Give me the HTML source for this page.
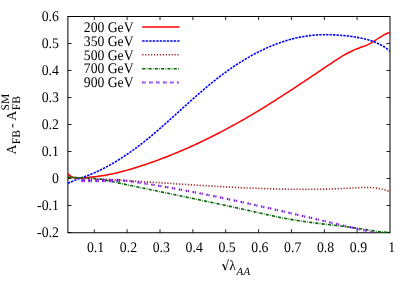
<!DOCTYPE html><html><head><meta charset="utf-8"><style>html,body{margin:0;padding:0;background:#fff}svg{display:block;will-change:transform}text{font-family:"Liberation Serif",serif;fill:#000;text-rendering:geometricPrecision}</style></head><body>
<svg width="415" height="291" viewBox="0 0 415 291">
<rect width="415" height="291" fill="#fff"/>
<defs><clipPath id="c"><rect x="67.9" y="16.5" width="322.1" height="217.2"/></clipPath><clipPath id="pc"><rect x="80" y="170" width="44" height="20"/></clipPath></defs>
<g stroke="#000" stroke-width="0.85" fill="none">
<rect x="67.90" y="16.50" width="322.10" height="216.25" stroke-width="1"/>
<path d="M94.3,232.8 v-3.6 M94.3,16.5 v3.6"/>
<path d="M127.1,232.8 v-3.6 M127.1,16.5 v3.6"/>
<path d="M160.0,232.8 v-3.6 M160.0,16.5 v3.6"/>
<path d="M192.9,232.8 v-3.6 M192.9,16.5 v3.6"/>
<path d="M225.7,232.8 v-3.6 M225.7,16.5 v3.6"/>
<path d="M258.6,232.8 v-3.6 M258.6,16.5 v3.6"/>
<path d="M291.4,232.8 v-3.6 M291.4,16.5 v3.6"/>
<path d="M324.3,232.8 v-3.6 M324.3,16.5 v3.6"/>
<path d="M357.1,232.8 v-3.6 M357.1,16.5 v3.6"/>
<path d="M67.9,232.5 h3.6 M390.0,232.5 h-3.6"/>
<path d="M67.9,205.5 h3.6 M390.0,205.5 h-3.6"/>
<path d="M67.9,178.5 h3.6 M390.0,178.5 h-3.6"/>
<path d="M67.9,151.5 h3.6 M390.0,151.5 h-3.6"/>
<path d="M67.9,124.5 h3.6 M390.0,124.5 h-3.6"/>
<path d="M67.9,97.5 h3.6 M390.0,97.5 h-3.6"/>
<path d="M67.9,70.5 h3.6 M390.0,70.5 h-3.6"/>
<path d="M67.9,43.5 h3.6 M390.0,43.5 h-3.6"/>
<path d="M67.9,16.5 h3.6 M390.0,16.5 h-3.6"/>
</g>
<g clip-path="url(#c)" fill="none" stroke-linejoin="round">
<path d="M67.90,173.60 C68.17,173.90 68.70,174.78 69.50,175.40 C70.30,176.02 71.62,176.88 72.70,177.30 C73.78,177.72 74.62,177.78 76.00,177.90 C77.38,178.02 79.33,178.02 81.00,178.00 C82.67,177.98 84.17,177.95 86.00,177.80 C87.83,177.65 90.33,177.27 92.00,177.08 C93.67,176.88 94.67,176.79 96.00,176.62 C97.33,176.45 98.67,176.27 100.00,176.07 C101.33,175.87 102.67,175.66 104.00,175.43 C105.33,175.20 106.67,174.96 108.00,174.71 C109.33,174.45 110.67,174.18 112.00,173.90 C113.33,173.62 114.67,173.32 116.00,173.02 C117.33,172.71 118.67,172.39 120.00,172.06 C121.33,171.73 122.67,171.38 124.00,171.03 C125.33,170.68 126.67,170.31 128.00,169.94 C129.33,169.56 130.67,169.18 132.00,168.78 C133.33,168.39 134.67,167.98 136.00,167.57 C137.33,167.16 138.67,166.73 140.00,166.30 C141.33,165.87 142.67,165.43 144.00,164.99 C145.33,164.54 146.67,164.08 148.00,163.62 C149.33,163.16 150.67,162.69 152.00,162.22 C153.33,161.74 154.67,161.26 156.00,160.77 C157.33,160.29 158.67,159.79 160.00,159.29 C161.33,158.79 162.67,158.28 164.00,157.77 C165.33,157.26 166.67,156.74 168.00,156.21 C169.33,155.68 170.67,155.15 172.00,154.61 C173.33,154.07 174.67,153.52 176.00,152.97 C177.33,152.42 178.67,151.86 180.00,151.30 C181.33,150.73 182.67,150.16 184.00,149.58 C185.33,149.00 186.67,148.42 188.00,147.83 C189.33,147.24 190.67,146.64 192.00,146.04 C193.33,145.43 194.67,144.82 196.00,144.21 C197.33,143.59 198.67,142.97 200.00,142.34 C201.33,141.71 202.67,141.08 204.00,140.43 C205.33,139.79 206.67,139.14 208.00,138.49 C209.33,137.84 210.67,137.17 212.00,136.51 C213.33,135.84 214.67,135.17 216.00,134.49 C217.33,133.81 218.67,133.12 220.00,132.43 C221.33,131.74 222.67,131.04 224.00,130.33 C225.33,129.63 226.67,128.92 228.00,128.20 C229.33,127.48 230.67,126.76 232.00,126.03 C233.33,125.30 234.67,124.56 236.00,123.82 C237.33,123.08 238.67,122.33 240.00,121.58 C241.33,120.82 242.67,120.06 244.00,119.29 C245.33,118.53 246.67,117.75 248.00,116.97 C249.33,116.19 250.67,115.41 252.00,114.62 C253.33,113.83 254.67,113.03 256.00,112.23 C257.33,111.43 258.67,110.63 260.00,109.81 C261.33,109.00 262.67,108.19 264.00,107.37 C265.33,106.55 266.67,105.72 268.00,104.89 C269.33,104.06 270.67,103.22 272.00,102.39 C273.33,101.55 274.67,100.70 276.00,99.86 C277.33,99.01 278.67,98.16 280.00,97.30 C281.33,96.45 282.67,95.59 284.00,94.73 C285.33,93.86 286.67,93.00 288.00,92.13 C289.33,91.26 290.67,90.39 292.00,89.51 C293.33,88.64 294.67,87.76 296.00,86.88 C297.33,86.00 298.67,85.11 300.00,84.23 C301.33,83.34 302.67,82.45 304.00,81.56 C305.33,80.67 306.67,79.78 308.00,78.89 C309.33,78.00 310.67,77.10 312.00,76.21 C313.33,75.31 314.67,74.42 316.00,73.52 C317.33,72.62 318.67,71.73 320.00,70.83 C321.33,69.93 322.67,69.03 324.00,68.14 C325.33,67.24 326.67,66.34 328.00,65.45 C329.33,64.55 330.67,63.66 332.00,62.77 C333.33,61.89 334.67,61.01 336.00,60.15 C337.33,59.29 338.67,58.44 340.00,57.62 C341.33,56.80 342.67,55.99 344.00,55.22 C345.33,54.44 346.67,53.69 348.00,52.98 C349.33,52.27 350.67,51.59 352.00,50.95 C353.33,50.32 354.67,49.72 356.00,49.17 C357.33,48.62 358.67,48.15 360.00,47.66 C361.33,47.18 362.67,46.77 364.00,46.27 C365.33,45.76 366.67,45.26 368.00,44.63 C369.33,43.99 370.67,43.24 372.00,42.45 C373.33,41.66 374.67,40.76 376.00,39.89 C377.33,39.03 378.67,38.10 380.00,37.26 C381.33,36.42 382.67,35.58 384.00,34.87 C385.33,34.16 387.00,33.44 388.00,33.03 C389.00,32.62 389.67,32.52 390.00,32.41" stroke="#ff0000" stroke-width="1.5"/>
<path d="M67.90,183.20 C69.67,182.47 76.48,179.63 78.50,178.80 C80.52,177.97 79.08,178.55 80.00,178.23 C80.92,177.91 82.67,177.35 84.00,176.88 C85.33,176.41 86.67,175.92 88.00,175.40 C89.33,174.89 90.67,174.35 92.00,173.80 C93.33,173.24 94.67,172.66 96.00,172.06 C97.33,171.46 98.67,170.83 100.00,170.19 C101.33,169.55 102.67,168.88 104.00,168.20 C105.33,167.52 106.67,166.81 108.00,166.09 C109.33,165.36 110.67,164.62 112.00,163.85 C113.33,163.09 114.67,162.30 116.00,161.50 C117.33,160.69 118.67,159.87 120.00,159.03 C121.33,158.18 122.67,157.32 124.00,156.44 C125.33,155.56 126.67,154.66 128.00,153.74 C129.33,152.82 130.67,151.88 132.00,150.93 C133.33,149.97 134.67,149.00 136.00,148.01 C137.33,147.02 138.67,146.01 140.00,144.98 C141.33,143.95 142.67,142.91 144.00,141.85 C145.33,140.79 146.67,139.71 148.00,138.62 C149.33,137.52 150.67,136.42 152.00,135.30 C153.33,134.18 154.67,133.05 156.00,131.90 C157.33,130.76 158.67,129.61 160.00,128.44 C161.33,127.28 162.67,126.11 164.00,124.93 C165.33,123.75 166.67,122.57 168.00,121.38 C169.33,120.19 170.67,118.99 172.00,117.79 C173.33,116.59 174.67,115.39 176.00,114.18 C177.33,112.98 178.67,111.77 180.00,110.57 C181.33,109.36 182.67,108.15 184.00,106.95 C185.33,105.75 186.67,104.55 188.00,103.35 C189.33,102.16 190.67,100.96 192.00,99.78 C193.33,98.59 194.67,97.41 196.00,96.24 C197.33,95.07 198.67,93.90 200.00,92.75 C201.33,91.59 202.67,90.44 204.00,89.31 C205.33,88.18 206.67,87.06 208.00,85.95 C209.33,84.84 210.67,83.74 212.00,82.66 C213.33,81.58 214.67,80.52 216.00,79.47 C217.33,78.42 218.67,77.39 220.00,76.38 C221.33,75.36 222.67,74.37 224.00,73.38 C225.33,72.40 226.67,71.44 228.00,70.49 C229.33,69.54 230.67,68.61 232.00,67.70 C233.33,66.79 234.67,65.89 236.00,65.01 C237.33,64.13 238.67,63.27 240.00,62.43 C241.33,61.59 242.67,60.76 244.00,59.95 C245.33,59.15 246.67,58.36 248.00,57.58 C249.33,56.81 250.67,56.06 252.00,55.32 C253.33,54.59 254.67,53.87 256.00,53.17 C257.33,52.47 258.67,51.79 260.00,51.13 C261.33,50.47 262.67,49.83 264.00,49.21 C265.33,48.58 266.67,47.98 268.00,47.39 C269.33,46.81 270.67,46.24 272.00,45.70 C273.33,45.15 274.67,44.62 276.00,44.12 C277.33,43.61 278.67,43.12 280.00,42.65 C281.33,42.18 282.67,41.74 284.00,41.31 C285.33,40.88 286.67,40.47 288.00,40.08 C289.33,39.70 290.67,39.33 292.00,38.98 C293.33,38.64 294.67,38.31 296.00,38.00 C297.33,37.70 298.67,37.41 300.00,37.15 C301.33,36.88 302.67,36.64 304.00,36.42 C305.33,36.20 306.67,36.00 308.00,35.82 C309.33,35.64 310.67,35.48 312.00,35.34 C313.33,35.21 314.67,35.09 316.00,35.00 C317.33,34.90 318.67,34.83 320.00,34.78 C321.33,34.73 322.67,34.69 324.00,34.68 C325.33,34.66 326.67,34.67 328.00,34.68 C329.33,34.70 330.67,34.74 332.00,34.79 C333.33,34.84 334.67,34.91 336.00,34.98 C337.33,35.06 338.67,35.16 340.00,35.26 C341.33,35.36 342.67,35.48 344.00,35.61 C345.33,35.74 346.67,35.88 348.00,36.03 C349.33,36.19 350.67,36.36 352.00,36.55 C353.33,36.74 354.67,36.94 356.00,37.16 C357.33,37.39 358.67,37.63 360.00,37.89 C361.33,38.15 362.67,38.44 364.00,38.75 C365.33,39.06 366.67,39.39 368.00,39.76 C369.33,40.14 370.67,40.54 372.00,41.01 C373.33,41.47 374.67,41.97 376.00,42.54 C377.33,43.12 378.67,43.74 380.00,44.44 C381.33,45.15 382.67,45.91 384.00,46.78 C385.33,47.64 387.00,48.87 388.00,49.61 C389.00,50.36 389.67,50.97 390.00,51.24" stroke="#0000ff" stroke-width="1.6" stroke-dasharray="2.35,1.1"/>
<path d="M67.90,176.00 C68.58,176.30 69.98,177.43 72.00,177.80 C74.02,178.17 75.33,177.98 80.00,178.20 C84.67,178.42 96.00,178.91 100.00,179.09 C104.00,179.28 102.67,179.23 104.00,179.30 C105.33,179.38 106.67,179.45 108.00,179.52 C109.33,179.60 110.67,179.67 112.00,179.75 C113.33,179.82 114.67,179.90 116.00,179.98 C117.33,180.05 118.67,180.13 120.00,180.21 C121.33,180.29 122.67,180.37 124.00,180.45 C125.33,180.53 126.67,180.62 128.00,180.70 C129.33,180.78 130.67,180.86 132.00,180.95 C133.33,181.03 134.67,181.12 136.00,181.20 C137.33,181.28 138.67,181.37 140.00,181.46 C141.33,181.54 142.67,181.63 144.00,181.72 C145.33,181.80 146.67,181.89 148.00,181.98 C149.33,182.06 150.67,182.15 152.00,182.24 C153.33,182.33 154.67,182.42 156.00,182.50 C157.33,182.59 158.67,182.68 160.00,182.77 C161.33,182.86 162.67,182.95 164.00,183.04 C165.33,183.13 166.67,183.21 168.00,183.30 C169.33,183.39 170.67,183.48 172.00,183.57 C173.33,183.66 174.67,183.75 176.00,183.84 C177.33,183.92 178.67,184.01 180.00,184.10 C181.33,184.19 182.67,184.28 184.00,184.36 C185.33,184.45 186.67,184.54 188.00,184.62 C189.33,184.71 190.67,184.80 192.00,184.88 C193.33,184.97 194.67,185.05 196.00,185.14 C197.33,185.22 198.67,185.31 200.00,185.39 C201.33,185.47 202.67,185.56 204.00,185.64 C205.33,185.72 206.67,185.80 208.00,185.88 C209.33,185.96 210.67,186.04 212.00,186.12 C213.33,186.20 214.67,186.28 216.00,186.36 C217.33,186.43 218.67,186.51 220.00,186.59 C221.33,186.66 222.67,186.73 224.00,186.81 C225.33,186.88 226.67,186.95 228.00,187.02 C229.33,187.10 230.67,187.17 232.00,187.23 C233.33,187.30 234.67,187.37 236.00,187.44 C237.33,187.50 238.67,187.57 240.00,187.63 C241.33,187.69 242.67,187.76 244.00,187.82 C245.33,187.88 246.67,187.94 248.00,187.99 C249.33,188.05 250.67,188.11 252.00,188.16 C253.33,188.22 254.67,188.27 256.00,188.32 C257.33,188.37 258.67,188.42 260.00,188.47 C261.33,188.52 262.67,188.57 264.00,188.61 C265.33,188.66 266.67,188.70 268.00,188.74 C269.33,188.78 270.67,188.82 272.00,188.86 C273.33,188.89 274.67,188.93 276.00,188.96 C277.33,188.99 278.67,189.02 280.00,189.05 C281.33,189.08 282.67,189.11 284.00,189.13 C285.33,189.16 286.67,189.18 288.00,189.20 C289.33,189.22 290.67,189.24 292.00,189.26 C293.33,189.27 294.67,189.28 296.00,189.30 C297.33,189.31 298.67,189.31 300.00,189.32 C301.33,189.33 302.67,189.33 304.00,189.33 C305.33,189.33 306.67,189.33 308.00,189.33 C309.33,189.32 310.67,189.32 312.00,189.31 C313.33,189.30 314.67,189.29 316.00,189.27 C317.33,189.26 318.67,189.24 320.00,189.22 C321.33,189.20 322.67,189.17 324.00,189.15 C325.33,189.12 326.67,189.09 328.00,189.06 C329.33,189.03 330.67,188.99 332.00,188.95 C333.33,188.91 334.67,188.86 336.00,188.82 C337.33,188.77 338.67,188.72 340.00,188.66 C341.33,188.61 342.67,188.55 344.00,188.48 C345.33,188.42 346.67,188.35 348.00,188.28 C349.33,188.21 350.67,188.13 352.00,188.05 C353.33,187.97 354.67,187.89 356.00,187.81 C357.33,187.74 358.67,187.67 360.00,187.61 C361.33,187.56 362.67,187.51 364.00,187.49 C365.33,187.46 366.67,187.45 368.00,187.48 C369.33,187.50 370.67,187.55 372.00,187.64 C373.33,187.72 374.67,187.84 376.00,188.01 C377.33,188.19 378.67,188.40 380.00,188.67 C381.33,188.95 382.67,189.27 384.00,189.67 C385.33,190.06 387.00,190.68 388.00,191.05 C389.00,191.42 389.67,191.77 390.00,191.91" stroke="#a52a2a" stroke-width="1.6" stroke-dasharray="1.25,1.69"/>
<path d="M67.90,177.30 C69.67,177.35 74.33,177.43 78.50,177.60 C82.67,177.77 89.32,178.06 92.90,178.30 C96.48,178.54 98.15,178.75 100.00,179.01 C101.85,179.27 102.67,179.59 104.00,179.87 C105.33,180.16 106.67,180.45 108.00,180.73 C109.33,181.02 110.67,181.30 112.00,181.59 C113.33,181.87 114.67,182.16 116.00,182.44 C117.33,182.72 118.67,183.01 120.00,183.29 C121.33,183.57 122.67,183.85 124.00,184.13 C125.33,184.42 126.67,184.70 128.00,184.98 C129.33,185.26 130.67,185.54 132.00,185.82 C133.33,186.10 134.67,186.38 136.00,186.66 C137.33,186.94 138.67,187.21 140.00,187.49 C141.33,187.77 142.67,188.05 144.00,188.33 C145.33,188.61 146.67,188.88 148.00,189.16 C149.33,189.44 150.67,189.72 152.00,189.99 C153.33,190.27 154.67,190.55 156.00,190.82 C157.33,191.10 158.67,191.38 160.00,191.66 C161.33,191.93 162.67,192.21 164.00,192.49 C165.33,192.76 166.67,193.04 168.00,193.32 C169.33,193.59 170.67,193.87 172.00,194.15 C173.33,194.43 174.67,194.70 176.00,194.98 C177.33,195.26 178.67,195.54 180.00,195.81 C181.33,196.09 182.67,196.37 184.00,196.65 C185.33,196.92 186.67,197.20 188.00,197.48 C189.33,197.76 190.67,198.04 192.00,198.32 C193.33,198.60 194.67,198.88 196.00,199.16 C197.33,199.44 198.67,199.72 200.00,200.00 C201.33,200.28 202.67,200.56 204.00,200.84 C205.33,201.12 206.67,201.41 208.00,201.69 C209.33,201.97 210.67,202.26 212.00,202.54 C213.33,202.82 214.67,203.11 216.00,203.39 C217.33,203.68 218.67,203.96 220.00,204.25 C221.33,204.53 222.67,204.82 224.00,205.11 C225.33,205.40 226.67,205.68 228.00,205.97 C229.33,206.26 230.67,206.55 232.00,206.84 C233.33,207.13 234.67,207.42 236.00,207.72 C237.33,208.01 238.67,208.30 240.00,208.60 C241.33,208.89 242.67,209.18 244.00,209.48 C245.33,209.78 246.67,210.07 248.00,210.37 C249.33,210.67 250.67,210.97 252.00,211.27 C253.33,211.56 254.67,211.87 256.00,212.17 C257.33,212.47 258.67,212.77 260.00,213.07 C261.33,213.37 262.67,213.67 264.00,213.97 C265.33,214.27 266.67,214.56 268.00,214.86 C269.33,215.15 270.67,215.44 272.00,215.73 C273.33,216.02 274.67,216.30 276.00,216.58 C277.33,216.86 278.67,217.14 280.00,217.41 C281.33,217.68 282.67,217.94 284.00,218.20 C285.33,218.45 286.67,218.70 288.00,218.95 C289.33,219.19 290.67,219.43 292.00,219.65 C293.33,219.88 294.67,220.10 296.00,220.31 C297.33,220.53 298.67,220.73 300.00,220.93 C301.33,221.13 302.67,221.33 304.00,221.52 C305.33,221.71 306.67,221.89 308.00,222.07 C309.33,222.25 310.67,222.43 312.00,222.60 C313.33,222.78 314.67,222.94 316.00,223.11 C317.33,223.28 318.67,223.44 320.00,223.61 C321.33,223.77 322.67,223.93 324.00,224.09 C325.33,224.25 326.67,224.41 328.00,224.57 C329.33,224.73 330.67,224.89 332.00,225.05 C333.33,225.21 334.67,225.37 336.00,225.54 C337.33,225.70 338.67,225.86 340.00,226.03 C341.33,226.20 342.67,226.36 344.00,226.54 C345.33,226.71 346.67,226.88 348.00,227.05 C349.33,227.23 350.67,227.41 352.00,227.59 C353.33,227.77 354.67,227.95 356.00,228.14 C357.33,228.33 358.67,228.52 360.00,228.72 C361.33,228.91 362.67,229.11 364.00,229.32 C365.33,229.52 366.67,229.73 368.00,229.94 C369.33,230.15 370.67,230.37 372.00,230.58 C373.33,230.79 374.67,230.99 376.00,231.18 C377.33,231.37 378.67,231.55 380.00,231.69 C381.33,231.84 382.67,231.98 384.00,232.07 C385.33,232.16 387.00,232.22 388.00,232.25 C389.00,232.28 389.67,232.26 390.00,232.26" stroke="#006400" stroke-width="1.6" stroke-dasharray="3.1,1.25,0.7,1.25"/>
<path d="M81.50,180.40 C82.08,180.42 82.75,180.47 85.00,180.50 C87.25,180.53 91.33,180.60 95.00,180.60 C98.67,180.60 102.50,180.50 107.00,180.50 C111.50,180.50 118.67,180.54 122.00,180.60 C125.33,180.66 125.50,180.72 127.00,180.86 C128.50,180.99 129.67,181.23 131.00,181.43 C132.33,181.62 133.67,181.81 135.00,182.01 C136.33,182.21 137.67,182.41 139.00,182.61 C140.33,182.81 141.67,183.02 143.00,183.22 C144.33,183.43 145.67,183.64 147.00,183.85 C148.33,184.06 149.67,184.28 151.00,184.49 C152.33,184.71 153.67,184.93 155.00,185.15 C156.33,185.37 157.67,185.59 159.00,185.82 C160.33,186.04 161.67,186.27 163.00,186.50 C164.33,186.73 165.67,186.96 167.00,187.19 C168.33,187.43 169.67,187.66 171.00,187.90 C172.33,188.14 173.67,188.38 175.00,188.62 C176.33,188.86 177.67,189.10 179.00,189.35 C180.33,189.59 181.67,189.84 183.00,190.09 C184.33,190.34 185.67,190.59 187.00,190.84 C188.33,191.09 189.67,191.35 191.00,191.60 C192.33,191.86 193.67,192.12 195.00,192.38 C196.33,192.64 197.67,192.90 199.00,193.16 C200.33,193.42 201.67,193.69 203.00,193.95 C204.33,194.22 205.67,194.49 207.00,194.76 C208.33,195.02 209.67,195.29 211.00,195.57 C212.33,195.84 213.67,196.11 215.00,196.39 C216.33,196.66 217.67,196.94 219.00,197.22 C220.33,197.49 221.67,197.77 223.00,198.05 C224.33,198.33 225.67,198.62 227.00,198.90 C228.33,199.18 229.67,199.47 231.00,199.75 C232.33,200.04 233.67,200.32 235.00,200.61 C236.33,200.90 237.67,201.19 239.00,201.48 C240.33,201.77 241.67,202.06 243.00,202.35 C244.33,202.64 245.67,202.94 247.00,203.23 C248.33,203.53 249.67,203.82 251.00,204.12 C252.33,204.41 253.67,204.71 255.00,205.01 C256.33,205.31 257.67,205.61 259.00,205.91 C260.33,206.21 261.67,206.51 263.00,206.81 C264.33,207.11 265.67,207.41 267.00,207.72 C268.33,208.02 269.67,208.32 271.00,208.63 C272.33,208.93 273.67,209.24 275.00,209.54 C276.33,209.85 277.67,210.16 279.00,210.46 C280.33,210.77 281.67,211.08 283.00,211.39 C284.33,211.70 285.67,212.00 287.00,212.31 C288.33,212.62 289.67,212.93 291.00,213.24 C292.33,213.55 293.67,213.87 295.00,214.18 C296.33,214.49 297.67,214.80 299.00,215.11 C300.33,215.42 301.67,215.74 303.00,216.05 C304.33,216.36 305.67,216.67 307.00,216.99 C308.33,217.30 309.67,217.61 311.00,217.93 C312.33,218.24 313.67,218.55 315.00,218.87 C316.33,219.18 317.67,219.50 319.00,219.81 C320.33,220.12 321.67,220.44 323.00,220.75 C324.33,221.07 325.67,221.38 327.00,221.69 C328.33,222.01 329.67,222.32 331.00,222.64 C332.33,222.95 333.67,223.27 335.00,223.58 C336.33,223.89 337.67,224.21 339.00,224.52 C340.33,224.83 341.67,225.15 343.00,225.46 C344.33,225.77 345.67,226.09 347.00,226.40 C348.33,226.71 349.67,227.03 351.00,227.34 C352.33,227.65 353.67,227.96 355.00,228.27 C356.33,228.58 357.67,228.90 359.00,229.21 C360.33,229.52 361.67,229.83 363.00,230.14 C364.33,230.45 365.67,230.76 367.00,231.06 C368.33,231.37 370.07,231.77 371.00,231.99 C371.93,232.20 372.33,232.30 372.60,232.36" stroke="#7a10e0" stroke-width="2.2" stroke-dasharray="1.5,0.7,1.2,3.6"/>
<path d="M81.50,180.40 C82.08,180.42 82.75,180.47 85.00,180.50 C87.25,180.53 91.33,180.60 95.00,180.60 C98.67,180.60 102.50,180.50 107.00,180.50 C111.50,180.50 118.67,180.54 122.00,180.60 C125.33,180.66 125.50,180.72 127.00,180.86 C128.50,180.99 129.67,181.23 131.00,181.43 C132.33,181.62 133.67,181.81 135.00,182.01 C136.33,182.21 137.67,182.41 139.00,182.61 C140.33,182.81 141.67,183.02 143.00,183.22 C144.33,183.43 145.67,183.64 147.00,183.85 C148.33,184.06 149.67,184.28 151.00,184.49 C152.33,184.71 153.67,184.93 155.00,185.15 C156.33,185.37 157.67,185.59 159.00,185.82 C160.33,186.04 161.67,186.27 163.00,186.50 C164.33,186.73 165.67,186.96 167.00,187.19 C168.33,187.43 169.67,187.66 171.00,187.90 C172.33,188.14 173.67,188.38 175.00,188.62 C176.33,188.86 177.67,189.10 179.00,189.35 C180.33,189.59 181.67,189.84 183.00,190.09 C184.33,190.34 185.67,190.59 187.00,190.84 C188.33,191.09 189.67,191.35 191.00,191.60 C192.33,191.86 193.67,192.12 195.00,192.38 C196.33,192.64 197.67,192.90 199.00,193.16 C200.33,193.42 201.67,193.69 203.00,193.95 C204.33,194.22 205.67,194.49 207.00,194.76 C208.33,195.02 209.67,195.29 211.00,195.57 C212.33,195.84 213.67,196.11 215.00,196.39 C216.33,196.66 217.67,196.94 219.00,197.22 C220.33,197.49 221.67,197.77 223.00,198.05 C224.33,198.33 225.67,198.62 227.00,198.90 C228.33,199.18 229.67,199.47 231.00,199.75 C232.33,200.04 233.67,200.32 235.00,200.61 C236.33,200.90 237.67,201.19 239.00,201.48 C240.33,201.77 241.67,202.06 243.00,202.35 C244.33,202.64 245.67,202.94 247.00,203.23 C248.33,203.53 249.67,203.82 251.00,204.12 C252.33,204.41 253.67,204.71 255.00,205.01 C256.33,205.31 257.67,205.61 259.00,205.91 C260.33,206.21 261.67,206.51 263.00,206.81 C264.33,207.11 265.67,207.41 267.00,207.72 C268.33,208.02 269.67,208.32 271.00,208.63 C272.33,208.93 273.67,209.24 275.00,209.54 C276.33,209.85 277.67,210.16 279.00,210.46 C280.33,210.77 281.67,211.08 283.00,211.39 C284.33,211.70 285.67,212.00 287.00,212.31 C288.33,212.62 289.67,212.93 291.00,213.24 C292.33,213.55 293.67,213.87 295.00,214.18 C296.33,214.49 297.67,214.80 299.00,215.11 C300.33,215.42 301.67,215.74 303.00,216.05 C304.33,216.36 305.67,216.67 307.00,216.99 C308.33,217.30 309.67,217.61 311.00,217.93 C312.33,218.24 313.67,218.55 315.00,218.87 C316.33,219.18 317.67,219.50 319.00,219.81 C320.33,220.12 321.67,220.44 323.00,220.75 C324.33,221.07 325.67,221.38 327.00,221.69 C328.33,222.01 329.67,222.32 331.00,222.64 C332.33,222.95 333.67,223.27 335.00,223.58 C336.33,223.89 337.67,224.21 339.00,224.52 C340.33,224.83 341.67,225.15 343.00,225.46 C344.33,225.77 345.67,226.09 347.00,226.40 C348.33,226.71 349.67,227.03 351.00,227.34 C352.33,227.65 353.67,227.96 355.00,228.27 C356.33,228.58 357.67,228.90 359.00,229.21 C360.33,229.52 361.67,229.83 363.00,230.14 C364.33,230.45 365.67,230.76 367.00,231.06 C368.33,231.37 370.07,231.77 371.00,231.99 C371.93,232.20 372.33,232.30 372.60,232.36" stroke="#7a10e0" stroke-width="3.4" stroke-dasharray="1.5,0.7,1.2,3.6" stroke-opacity="0.85" clip-path="url(#pc)"/>
</g>
<text transform="translate(58.90,237.40) scale(0.945,1)" font-size="14.60" text-anchor="end">-0.2</text>
<text transform="translate(58.90,210.40) scale(0.945,1)" font-size="14.60" text-anchor="end">-0.1</text>
<text transform="translate(58.90,183.40) scale(0.945,1)" font-size="14.60" text-anchor="end">0</text>
<text transform="translate(58.90,156.40) scale(0.945,1)" font-size="14.60" text-anchor="end">0.1</text>
<text transform="translate(58.90,129.40) scale(0.945,1)" font-size="14.60" text-anchor="end">0.2</text>
<text transform="translate(58.90,102.40) scale(0.945,1)" font-size="14.60" text-anchor="end">0.3</text>
<text transform="translate(58.90,75.40) scale(0.945,1)" font-size="14.60" text-anchor="end">0.4</text>
<text transform="translate(58.90,48.40) scale(0.945,1)" font-size="14.60" text-anchor="end">0.5</text>
<text transform="translate(58.90,21.40) scale(0.945,1)" font-size="14.60" text-anchor="end">0.6</text>
<text transform="translate(95.59,251.60) scale(0.945,1)" font-size="14.60" text-anchor="middle">0.1</text>
<text transform="translate(128.44,251.60) scale(0.945,1)" font-size="14.60" text-anchor="middle">0.2</text>
<text transform="translate(161.30,251.60) scale(0.945,1)" font-size="14.60" text-anchor="middle">0.3</text>
<text transform="translate(194.16,251.60) scale(0.945,1)" font-size="14.60" text-anchor="middle">0.4</text>
<text transform="translate(227.02,251.60) scale(0.945,1)" font-size="14.60" text-anchor="middle">0.5</text>
<text transform="translate(259.87,251.60) scale(0.945,1)" font-size="14.60" text-anchor="middle">0.6</text>
<text transform="translate(292.73,251.60) scale(0.945,1)" font-size="14.60" text-anchor="middle">0.7</text>
<text transform="translate(325.59,251.60) scale(0.945,1)" font-size="14.60" text-anchor="middle">0.8</text>
<text transform="translate(358.44,251.60) scale(0.945,1)" font-size="14.60" text-anchor="middle">0.9</text>
<text transform="translate(391.80,251.60) scale(0.945,1)" font-size="14.60" text-anchor="middle">1</text>
<text transform="translate(133.60,31.80) scale(0.938,1)" font-size="14.60" text-anchor="end">200 GeV</text>
<path d="M142.2,27.1 H179.5" fill="none" stroke="#ff0000" stroke-width="1.5"/>
<text transform="translate(133.60,45.65) scale(0.938,1)" font-size="14.60" text-anchor="end">350 GeV</text>
<path d="M142.2,41.0 H179.5" fill="none" stroke="#0000ff" stroke-width="1.5" stroke-dasharray="2.4,1.1"/>
<text transform="translate(133.60,59.50) scale(0.938,1)" font-size="14.60" text-anchor="end">500 GeV</text>
<path d="M142.2,54.8 H179.5" fill="none" stroke="#a52a2a" stroke-width="1.6" stroke-dasharray="1.25,1.69"/>
<text transform="translate(133.60,73.35) scale(0.938,1)" font-size="14.60" text-anchor="end">700 GeV</text>
<path d="M142.2,68.7 H179.5" fill="none" stroke="#006400" stroke-width="1.6" stroke-dasharray="3.1,1.25,0.7,1.25"/>
<text transform="translate(133.60,87.20) scale(0.938,1)" font-size="14.60" text-anchor="end">900 GeV</text>
<path d="M142.2,82.5 H179.5" fill="none" stroke="#7a10e0" stroke-width="2.2" stroke-dasharray="1.5,0.7,1.2,3.6"/>
<path d="M221.8,265.2 L223.3,264.3" stroke="#000" stroke-width="0.7" fill="none"/>
<path d="M223.3,264.3 L225.3,270.0" stroke="#000" stroke-width="1.3" fill="none"/>
<path d="M225.3,270.2 L228.6,258.9" stroke="#000" stroke-width="0.7" fill="none"/>
<text x="229.2" y="270.2" font-size="13.8">λ</text>
<text x="236.6" y="274.9" font-size="11" font-style="italic" letter-spacing="0.3">AA</text>
<g transform="translate(15.7,154.5) rotate(-90)">
<text x="0" y="0" font-size="13.8">A</text>
<text x="10.3" y="4.2" font-size="11.6">FB</text>
<text x="26.5" y="0" font-size="13.8">-</text>
<text x="33.7" y="0" font-size="13.8">A</text>
<text x="44.0" y="-6.7" font-size="11.5">SM</text>
<text x="44.2" y="4.2" font-size="11.6">FB</text>
</g>
</svg></body></html>
